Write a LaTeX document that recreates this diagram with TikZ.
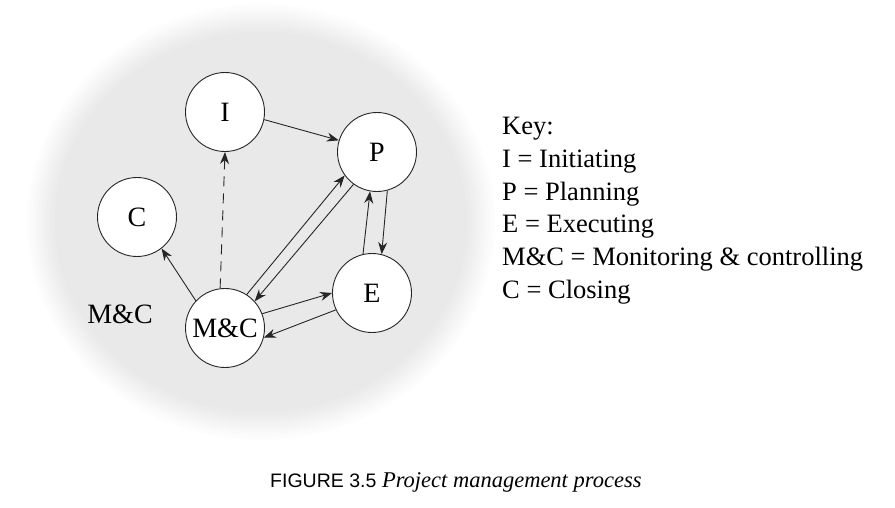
\documentclass[tikz,border=0pt]{standalone}
\usepackage{fontspec}
\setmainfont{Liberation Serif}
\newfontfamily\capsans{Liberation Sans}
\usetikzlibrary{arrows.meta}
\definecolor{bggray}{RGB}{233,233,233}
\tikzset{
  stage/.style={circle, draw=black!85, fill=white, line width=0.9pt, minimum size=79pt, inner sep=0pt, font=\fontsize{28}{30}\selectfont},
  flow/.style={line width=0.9pt, draw=black!85, -{Stealth[length=12pt,width=9pt]}},
  keyline/.style={anchor=base west, inner sep=0pt, font=\fontsize{26.5}{30}\selectfont},
}
\begin{document}
\begin{tikzpicture}[x=1pt,y=1pt]
\useasboundingbox (0,0) rectangle (895,507);
\foreach \k in {0,...,14} {
  \pgfmathsetmacro\pc{100*(\k+1)/15}
  \fill[bggray!\pc!white] (261,285) ellipse [x radius={234-2*\k}, y radius={218-2*\k}];
}

\node[stage] (i) at (225,395) {I};
\node[stage] (p) at (377,355) {P};
\node[stage] (c) at (137,290) {C};
\node[stage] (e) at (372,214) {E};
\node[stage] (mc) at (225,179) {M\&C};
\node[anchor=base, inner sep=0pt, font=\fontsize{28}{30}\selectfont] (mclabel) at (120,184) {M\&C};

\draw[flow] (i.-11) -- (p.163);
\draw[flow, dash pattern=on 10pt off 7pt] (mc.97) -- (i.270);
\draw[flow] (mc.137) -- (c.308);
\draw[flow] (mc.57) -- (p.216);
\draw[flow] (p.234) -- (mc.42);
\draw[flow] (p.285) -- (e.76);
\draw[flow] (e.103) -- (p.260);
\draw[flow] (mc.21) -- (e.180);
\draw[flow] (e.205) -- (mc.-14);

\node[keyline] (k0) at (502,372) {Key:};
\node[keyline] (k1) at (502,339.4) {I = Initiating};
\node[keyline] (k2) at (502,306.8) {P = Planning};
\node[keyline] (k3) at (502,274.2) {E = Executing};
\node[keyline] (k4) at (502,241.6) {M\&C = Monitoring \& controlling};
\node[keyline] (k5) at (502,209) {C = Closing};

\node[anchor=base west, inner sep=0pt, font=\fontsize{22.5}{25}\selectfont] (cap) at (270,20) {{\capsans\fontsize{19.5}{22}\selectfont FIGURE 3.5}\ {\itshape Project management process}};
\end{tikzpicture}
\end{document}
